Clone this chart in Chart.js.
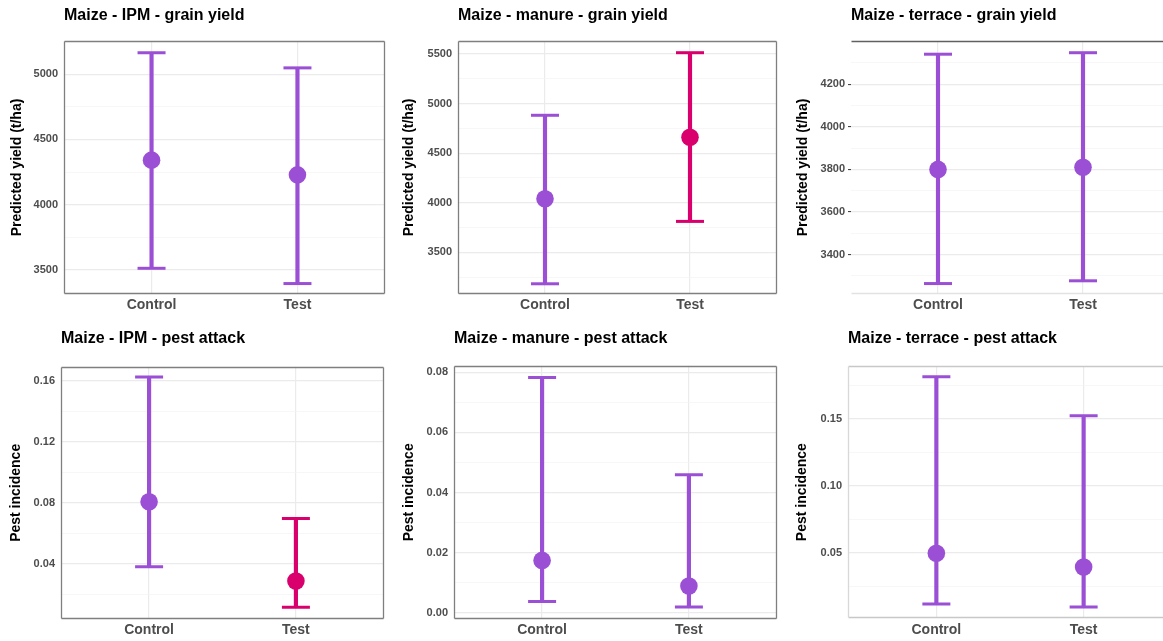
<!DOCTYPE html>
<html>
<head>
<meta charset="utf-8">
<title>Maize - predicted yield and pest incidence</title>
<script src="https://cdn.jsdelivr.net/npm/chart.js@4.4.1/dist/chart.umd.min.js"></script>
<style>
    html, body { margin: 0; padding: 0; background: #fff; overflow: hidden; width: 1163px; height: 641px; }
    canvas { position: absolute; }
</style>
</head>
<body>
<canvas id="c1" width="390" height="320" style="left:0;top:0"></canvas>
<canvas id="c2" width="390" height="320" style="left:390px;top:0"></canvas>
<canvas id="c3" width="395" height="320" style="left:780px;top:0"></canvas>
<canvas id="c4" width="390" height="321" style="left:0;top:320px"></canvas>
<canvas id="c5" width="390" height="321" style="left:390px;top:320px"></canvas>
<canvas id="c6" width="395" height="321" style="left:780px;top:320px"></canvas>
<script>
"use strict";

// x axis categories
var categories = ["Control", "Test"];

// Maize - IPM - grain yield
var ipmYieldMean = [4341, 4228];
var ipmYieldLow = [3512, 3395];
var ipmYieldHigh = [5164, 5048];
var ipmYieldTicks = [3500, 4000, 4500, 5000];
var ipmYieldTickLabels = ["3500", "4000", "4500", "5000"];

// Maize - manure - grain yield
var manureYieldMean = [4040, 4661];
var manureYieldLow = [3183, 3812];
var manureYieldHigh = [4882, 5513];
var manureYieldTicks = [3500, 4000, 4500, 5000, 5500];
var manureYieldTickLabels = ["3500", "4000", "4500", "5000", "5500"];

// Maize - terrace - grain yield
var terraceYieldMean = [3800, 3810];
var terraceYieldLow = [3264, 3277];
var terraceYieldHigh = [4341, 4348];
var terraceYieldTicks = [3400, 3600, 3800, 4000, 4200];
var terraceYieldTickLabels = ["3400", "3600", "3800", "4000", "4200"];

// Maize - IPM - pest attack
var ipmPestMean = [0.0807, 0.0286];
var ipmPestLow = [0.0380, 0.0114];
var ipmPestHigh = [0.1626, 0.0697];
var ipmPestTicks = [0.04, 0.08, 0.12, 0.16];
var ipmPestTickLabels = ["0.04", "0.08", "0.12", "0.16"];

// Maize - manure - pest attack
var manurePestMean = [0.0174, 0.0089];
var manurePestLow = [0.0037, 0.0019];
var manurePestHigh = [0.0783, 0.0459];
var manurePestTicks = [0.00, 0.02, 0.04, 0.06, 0.08];
var manurePestTickLabels = ["0.00", "0.02", "0.04", "0.06", "0.08"];

// Maize - terrace - pest attack
var terracePestMean = [0.0496, 0.0393];
var terracePestLow = [0.0117, 0.0094];
var terracePestHigh = [0.1813, 0.1522];
var terracePestTicks = [0.05, 0.10, 0.15];
var terracePestTickLabels = ["0.05", "0.10", "0.15"];


var PURPLE = "#9a4fd5";
var MAGENTA = "#d9006d";
var FONT = "'Liberation Sans', Arial, sans-serif";
var FULL = "#7f7f7f";

var panels = [
    { id: "c1", title: "Maize - IPM - grain yield", titleY: 20, yTitle: "Predicted yield (t/ha)", yTitleOffset: 8.6,
      mean: ipmYieldMean, low: ipmYieldLow, high: ipmYieldHigh, ticks: ipmYieldTicks, labels: ipmYieldTickLabels,
      min: 3315, max: 5254, colors: [PURPLE, PURPLE],
      area: { left: 64, top: 41, right: 385, bottom: 294 },
      frame: { top: FULL, right: FULL, bottom: FULL, left: FULL } },
    { id: "c2", title: "Maize - manure - grain yield", titleY: 20, yTitle: "Predicted yield (t/ha)", yTitleOffset: 10.6,
      mean: manureYieldMean, low: manureYieldLow, high: manureYieldHigh, ticks: manureYieldTicks, labels: manureYieldTickLabels,
      min: 3080, max: 5631, colors: [PURPLE, MAGENTA],
      area: { left: 68, top: 41, right: 387, bottom: 294 },
      frame: { top: FULL, right: FULL, bottom: FULL, left: FULL } },
    { id: "c3", title: "Maize - terrace - grain yield", titleY: 20, yTitle: "Predicted yield (t/ha)", yTitleOffset: 14.6,
      mean: terraceYieldMean, low: terraceYieldLow, high: terraceYieldHigh, ticks: terraceYieldTicks, labels: terraceYieldTickLabels,
      min: 3215, max: 4403, colors: [PURPLE, PURPLE], tickMarks: true,
      area: { left: 71, top: 41, right: 390, bottom: 294 },
      frame: { top: "#606060", bottom: "#e2e2e2" } },
    { id: "c4", title: "Maize - IPM - pest attack", titleY: 22.7, yTitle: "Pest incidence", yTitleOffset: 7.3,
      mean: ipmPestMean, low: ipmPestLow, high: ipmPestHigh, ticks: ipmPestTicks, labels: ipmPestTickLabels,
      min: 0.0037, max: 0.1694, colors: [PURPLE, MAGENTA],
      area: { left: 61, top: 46.7, right: 384, bottom: 299 },
      frame: { top: FULL, right: FULL, bottom: FULL, left: FULL } },
    { id: "c5", title: "Maize - manure - pest attack", titleY: 23.3, yTitle: "Pest incidence", yTitleOffset: 10.6,
      mean: manurePestMean, low: manurePestLow, high: manurePestHigh, ticks: manurePestTicks, labels: manurePestTickLabels,
      min: -0.0021, max: 0.0822, colors: [PURPLE, PURPLE],
      area: { left: 64, top: 45.7, right: 387, bottom: 299 },
      frame: { top: FULL, right: FULL, bottom: FULL, left: FULL } },
    { id: "c6", title: "Maize - terrace - pest attack", titleY: 23.3, yTitle: "Pest incidence", yTitleOffset: 13.6,
      mean: terracePestMean, low: terracePestLow, high: terracePestHigh, ticks: terracePestTicks, labels: terracePestTickLabels,
      min: 0.0010, max: 0.1893, colors: [PURPLE, PURPLE],
      area: { left: 68, top: 46, right: 392, bottom: 298.3 },
      frame: { top: "#c8c8c8", bottom: "#c8c8c8", left: "#d8d8d8" } }
];


// Panel border (drawn over the data, like ggplot)
var framePlugin = {
    id: "frame",
    afterDraw: function (chart, args, opts) {
        var a = chart.chartArea, c = chart.ctx;
        var l = Math.round(a.left) + 0.5, r = Math.round(a.right) - 0.5;
        var t = Math.round(a.top) + 0.5, b = Math.round(a.bottom) - 0.5;
        function seg(x1, y1, x2, y2, col) {
            if (!col) return;
            c.beginPath();
            c.strokeStyle = col;
            c.moveTo(x1, y1);
            c.lineTo(x2, y2);
            c.stroke();
        }
        c.save();
        c.lineWidth = 1.3;
        seg(l, t, r, t, opts.top);
        seg(r, t, r, b, opts.right);
        seg(l, b, r, b, opts.bottom);
        seg(l, t, l, b, opts.left);
        c.restore();
    }
};

// Panel title, left aligned on the plot area
var titlePlugin = {
    id: "panelTitle",
    afterDraw: function (chart, args, opts) {
        if (!opts.text) return;
        var c = chart.ctx;
        c.save();
        c.font = "bold 16px " + FONT;
        c.fillStyle = "#000";
        c.textAlign = "left";
        c.textBaseline = "alphabetic";
        c.fillText(opts.text, chart.chartArea.left, opts.y);
        c.restore();
    }
};

Chart.register(framePlugin, titlePlugin);


function minorTicks(major, min, max) {
    var step = major[1] - major[0];
    var out = [];
    for (var v = major[0] - step / 2; v <= max; v += step) {
        if (v >= min) out.push(v);
    }
    return out;
}

function points(values) {
    return values.map(function (v, i) { return { x: i + 1, y: v }; });
}

function ranges(low, high) {
    return low.map(function (v, i) { return { x: i + 1, y: [v, high[i]] }; });
}

function makePanel(p) {
    var canvas = document.getElementById(p.id);
    var ctx = canvas.getContext("2d");
    var allTicks = p.ticks.concat(minorTicks(p.ticks, p.min, p.max)).sort(function (a, b) { return a - b; });
    var isMajor = function (v) { return p.ticks.indexOf(v) >= 0; };

    return new Chart(ctx, {
        type: "bar",
        data: {
            datasets: [
                {
                    type: "line",
                    data: points(p.mean),
                    showLine: false,
                    pointRadius: 8.8,
                    pointBorderWidth: 0,
                    pointBackgroundColor: p.colors,
                    order: 0
                },
                {
                    type: "line",
                    data: points(p.high),
                    showLine: false,
                    pointStyle: "line",
                    pointRadius: 14,
                    pointBorderWidth: 3,
                    pointBorderColor: p.colors,
                    order: 1
                },
                {
                    type: "line",
                    data: points(p.low),
                    showLine: false,
                    pointStyle: "line",
                    pointRadius: 14,
                    pointBorderWidth: 3,
                    pointBorderColor: p.colors,
                    order: 1
                },
                {
                    type: "bar",
                    data: ranges(p.low, p.high),
                    backgroundColor: p.colors,
                    borderWidth: 0,
                    barThickness: 3.5,
                    order: 2
                }
            ]
        },
        options: {
            responsive: false,
            animation: false,
            devicePixelRatio: 1,
            layout: {
                autoPadding: false,
                padding: { left: 0, bottom: 0, top: p.area.top, right: canvas.width - p.area.right }
            },
            plugins: {
                legend: { display: false },
                tooltip: { enabled: false },
                frame: p.frame,
                panelTitle: { text: p.title, y: p.titleY }
            },
            scales: {
                x: {
                    type: "linear",
                    min: 0.4,
                    max: 2.6,
                    offset: false,
                    afterBuildTicks: function (s) {
                        s.ticks = categories.map(function (c, i) { return { value: i + 1 }; });
                    },
                    afterFit: function (s) { s.height = canvas.height - p.area.bottom; },
                    ticks: {
                        padding: 3,
                        color: "#4d4d4d",
                        font: { family: FONT, size: 14, weight: "bold" },
                        callback: function (v, i) { return categories[i]; }
                    },
                    grid: { offset: false, color: "#ebebeb", lineWidth: 1.2, drawTicks: false },
                    border: { display: false }
                },
                y: {
                    type: "linear",
                    min: p.min,
                    max: p.max,
                    afterBuildTicks: function (s) {
                        s.ticks = allTicks.map(function (v) { return { value: v }; });
                    },
                    afterFit: function (s) { s.width = p.area.left; },
                    ticks: {
                        autoSkip: false,
                        padding: p.tickMarks ? 3 : 6,
                        color: "#4d4d4d",
                        font: { family: FONT, size: 11, weight: "bold" },
                        callback: function (v) {
                            var i = p.ticks.indexOf(v);
                            return i < 0 ? "" : p.labels[i];
                        }
                    },
                    grid: {
                        color: function (c) { return c.tick && isMajor(c.tick.value) ? "#ebebeb" : "#f4f4f4"; },
                        lineWidth: function (c) { return c.tick && isMajor(c.tick.value) ? 1.2 : 0.7; },
                        drawTicks: !!p.tickMarks,
                        tickLength: 3,
                        tickWidth: 1,
                        tickColor: function (c) { return c.tick && isMajor(c.tick.value) ? "#333333" : "rgba(0,0,0,0)"; }
                    },
                    border: { display: false },
                    title: {
                        display: true,
                        text: p.yTitle,
                        color: "#000",
                        font: { family: FONT, size: 14, weight: "bold" },
                        padding: { top: p.yTitleOffset, bottom: 0 }
                    }
                }
            }
        }
    });
}

panels.forEach(makePanel);
</script>
</body>
</html>
